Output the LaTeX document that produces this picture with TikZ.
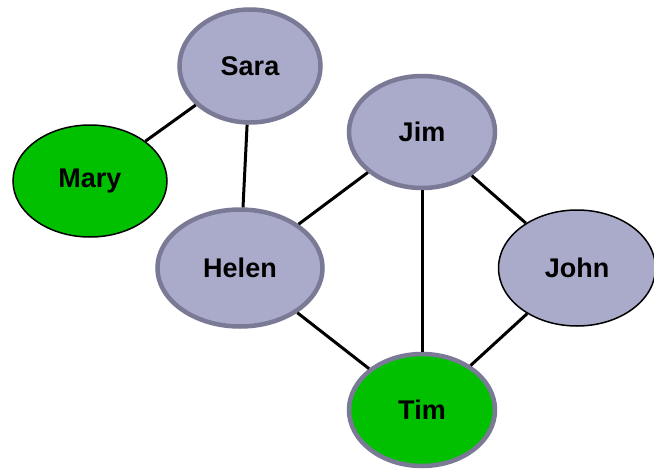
\documentclass[tikz,border=0pt]{standalone}
\usepackage{fontspec}
\setmainfont{Liberation Sans}
\usetikzlibrary{shapes.geometric}

\definecolor{lavender}{RGB}{170,170,202}
\definecolor{rimgray}{RGB}{122,122,150}
\definecolor{leafgreen}{RGB}{0,192,0}

\begin{document}
\begin{tikzpicture}[x=1pt,y=-1pt,
    person/.style={ellipse,draw=rimgray,line width=4.5pt,fill=lavender,
      inner sep=0pt,font=\fontsize{27}{32}\selectfont\bfseries},
    marked/.style={fill=leafgreen},
    plain/.style={draw=black,line width=1.5pt},
    link/.style={line width=3pt}]

    \useasboundingbox (0,0) rectangle (654,469);

    % Place the people
    \node[person,minimum width=141pt,minimum height=113pt] (sara) at (250,66) {Sara};
    \node[person,marked,plain,minimum width=154pt,minimum height=112pt] (mary) at (90,181) {Mary};
    \node[person,minimum width=146pt,minimum height=112pt] (jim) at (422,132) {Jim};
    \node[person,minimum width=165pt,minimum height=117pt] (helen) at (240,268) {Helen};
    \node[person,plain,minimum width=157pt,minimum height=116pt] (john) at (577,268) {John};
    \node[person,marked,minimum width=146pt,minimum height=112pt] (tim) at (422,410) {Tim};

    % Draw the links
    \draw[link] (sara) -- (mary);
    \draw[link] (sara) -- (helen);
    \draw[link] (jim) -- (helen);
    \draw[link] (jim) -- (tim);
    \draw[link] (jim) -- (john);
    \draw[link] (helen) -- (tim);
    \draw[link] (john) -- (tim);

\end{tikzpicture}
\end{document}
